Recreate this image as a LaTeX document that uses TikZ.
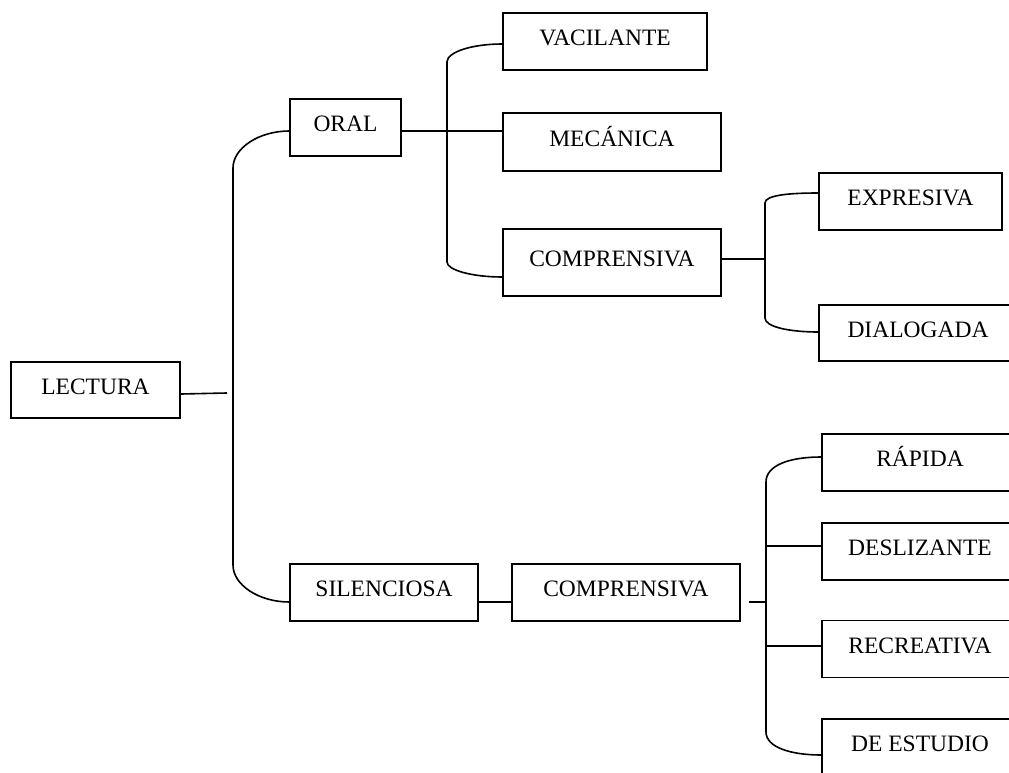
\documentclass[tikz,border=0pt]{standalone}
\usepackage{fontspec}
\setmainfont{Liberation Serif}
\usetikzlibrary{calc}
\begin{document}
\begin{tikzpicture}[x=1pt,y=-1pt,
  box/.style={draw,line width=1.6pt,inner sep=0pt,font=\fontsize{23.5}{28}\selectfont,text height=16.5pt,text depth=8pt},
  conn/.style={line width=1.6pt}]
\useasboundingbox (0,0) rectangle (1009,773);
\clip (0,0) rectangle (1009,773);
% boxes
\node[box,minimum width=169pt,minimum height=56pt] (lec) at (95.5,390) {LECTURA};
\node[box,minimum width=111pt,minimum height=57pt] (oral) at (345.5,127.5) {ORAL};
\node[box,minimum width=188pt,minimum height=57pt] (sil) at (384,592.5) {SILENCIOSA};
\node[box,minimum width=228pt,minimum height=57pt] (comp2) at (626,592.5) {COMPRENSIVA};
\node[box,minimum width=204pt,minimum height=57pt] (vac) at (605,41.5) {VACILANTE};
\node[box,minimum width=218pt,minimum height=58pt] (mec) at (612,142) {MECÁNICA};
\node[box,minimum width=218pt,minimum height=67pt] (comp1) at (612,262.5) {COMPRENSIVA};
\node[box,minimum width=183pt,minimum height=57pt] (exp) at (910.5,201.5) {EXPRESIVA};
\node[box,minimum width=198pt,minimum height=56pt] (dia) at (918,333) {DIALOGADA};
\node[box,minimum width=196pt,minimum height=57pt] (rap) at (920,462.5) {RÁPIDA};
\node[box,minimum width=196pt,minimum height=57pt] (des) at (920,551.5) {DESLIZANTE};
\node[box,minimum width=196pt,minimum height=57pt] (rec) at (920,649) {RECREATIVA};
\node[box,minimum width=196pt,minimum height=57pt] (est) at (920,747.5) {DE ESTUDIO};
% free ends
\coordinate (lecend) at (227,393);
\coordinate (c2end) at (749,602);
% LECTURA stub
\draw[conn] ($(lec.east)+(0,4)$) -- (lecend);
% main bracket
\draw[conn] ($(oral.west)+(0,3.5)$) .. controls (259,131) and (233,148) .. (233,168)
  -- (233,565) .. controls (233,585) and (259,602) .. ($(sil.west)+(0,9.5)$);
% ORAL bracket
\draw[conn] ($(oral.east)+(0,3.5)$) -- ($(mec.west)+(0,-11)$);
\draw[conn] ($(vac.west)+(0,2.5)$) .. controls (472,44) and (447,52) .. (447,62)
  -- (447,262) .. controls (447,270) and (472,277) .. ($(comp1.west)+(0,14.5)$);
% COMPRENSIVA (oral) bracket
\draw[conn] ($(comp1.east)+(0,-3.5)$) -- (765,259);
\draw[conn] ($(exp.west)+(0,-8.5)$) .. controls (790,193) and (765,195) .. (765,203)
  -- (765,318) .. controls (765,327) and (790,332) .. ($(dia.west)+(0,-1)$);
% SILENCIOSA -> COMPRENSIVA
\draw[conn] ($(sil.east)+(0,9.5)$) -- ($(comp2.west)+(0,9.5)$);
\draw[conn] (c2end) -- (766,602);
% COMPRENSIVA (silenciosa) bracket
\draw[conn] ($(rap.west)+(0,-5.5)$) .. controls (790,457) and (766,465) .. (766,482)
  -- (766,732) .. controls (766,747) and (790,755) .. ($(est.west)+(0,7.5)$);
\draw[conn] (766,546) -- ($(des.west)+(0,-5.5)$);
\draw[conn] (766,646) -- ($(rec.west)+(0,-3)$);
\end{tikzpicture}
\end{document}
